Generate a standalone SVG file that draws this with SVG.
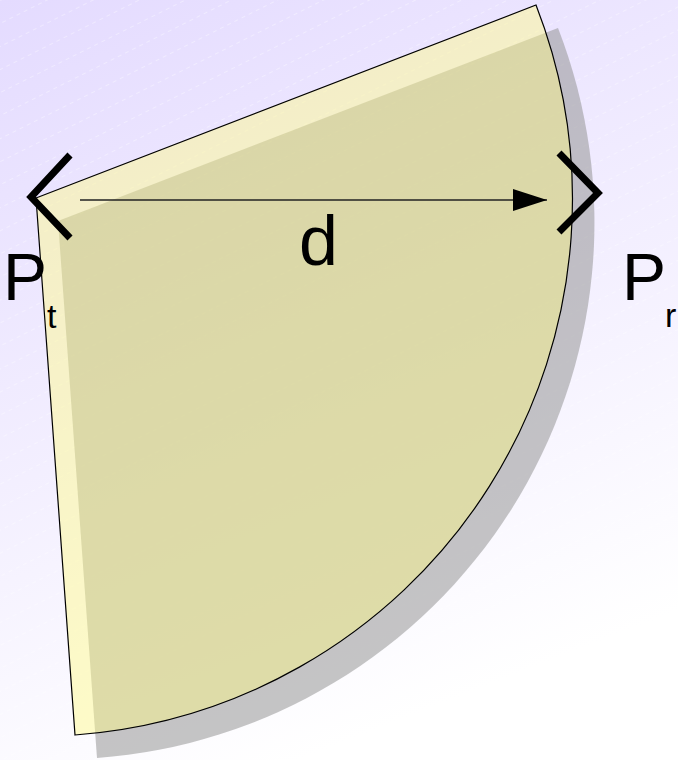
<svg xmlns="http://www.w3.org/2000/svg" width="678" height="760" viewBox="0 0 678 760">
  <style>
    .lbl { font-family: "Liberation Sans", Arial, sans-serif; fill: #000; }
    .bracket { fill: none; stroke: #000; stroke-width: 7; stroke-linecap: butt; stroke-linejoin: miter; }
  </style>
  <defs>
    <linearGradient id="bg" gradientUnits="userSpaceOnUse" x1="0" y1="0" x2="300" y2="760">
      <stop offset="0" stop-color="#e4dbff"/>
      <stop offset="1" stop-color="#ffffff"/>
    </linearGradient>
    <pattern id="hatch" patternUnits="userSpaceOnUse" width="8" height="20.6" patternTransform="rotate(-26.57)">
      <rect x="0" y="0" width="4" height="1" fill="#ffffff" opacity="0.35"/>
    </pattern>
    <path id="wedge" d="M36,198 L536,5 A537,537 0 0 1 75,735 Z"/>
    <marker id="arrow" markerUnits="userSpaceOnUse" markerWidth="36" markerHeight="24" refX="34" refY="11" orient="auto">
      <path d="M0,0 L34,11 L0,22 Z" fill="#000"/>
    </marker>
  </defs>

  <g id="background">
    <rect x="0" y="0" width="678" height="760" fill="url(#bg)"/>
    <rect x="0" y="0" width="678" height="760" fill="url(#hatch)"/>
  </g>

  <g id="shadow">
    <use href="#wedge" transform="translate(22,23)" fill="#969696" fill-opacity="0.55"/>
  </g>

  <g id="sector">
    <use href="#wedge" fill="#fffa85" fill-opacity="0.45" stroke="#000" stroke-width="1.2"/>
  </g>

  <g id="connectors">
    <line x1="80" y1="200" x2="547" y2="200" stroke="#222" stroke-width="1.5" marker-end="url(#arrow)"/>
  </g>

  <g id="transmitter">
    <polyline class="bracket" points="70,155 31,197 70,238"/>
    <text class="lbl" x="3" y="300" font-size="66">P</text>
    <text class="lbl" x="47" y="328" font-size="34">t</text>
  </g>

  <g id="receiver">
    <polyline class="bracket" points="559,153 598,193 559,232"/>
    <text class="lbl" x="622" y="300" font-size="66">P</text>
    <text class="lbl" x="665" y="327" font-size="34">r</text>
  </g>

  <g id="label-d">
    <text class="lbl" x="299" y="265" font-size="70">d</text>
  </g>
</svg>
